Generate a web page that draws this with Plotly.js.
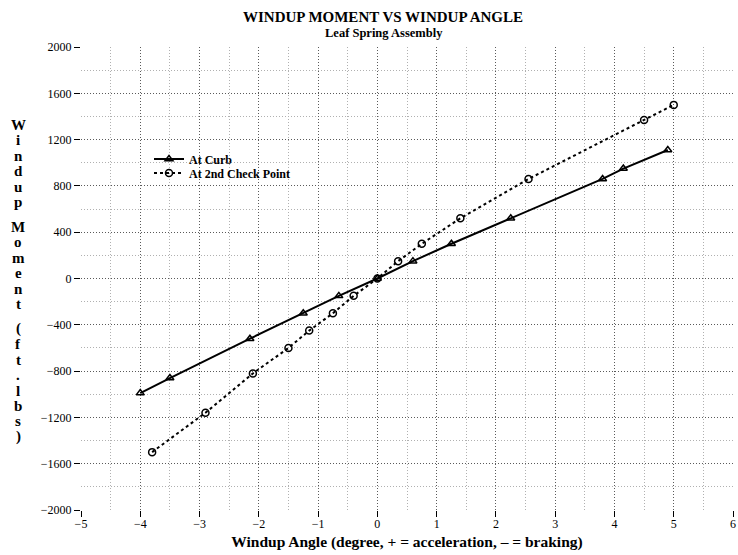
<!DOCTYPE html>
<html>
<head>
<meta charset="utf-8">
<script src="https://cdn.plot.ly/plotly-3.0.1.min.js"></script>
<style>
  html, body { margin: 0; padding: 0; background: #fff; }
  #chart { width: 738px; height: 555px; }
</style>
</head>
<body>
<div id="chart"></div>
<script>
// Windup moment (ft.lbs) against windup angle (degrees) for the leaf spring assembly
const curbAngle  = [-4.0, -3.5, -2.15, -1.25, -0.65, 0, 0.6, 1.25, 2.25, 3.8, 4.15, 4.9];
const curbMoment = [-990, -860, -520, -300, -150, 0, 150, 300, 520, 860, 950, 1110];

const checkAngle  = [-3.8, -2.9, -2.1, -1.5, -1.15, -0.75, -0.4, 0, 0.35, 0.75, 1.4, 2.55, 4.5, 5.0];
const checkMoment = [-1500, -1160, -820, -600, -450, -300, -150, 0, 150, 300, 520, 860, 1370, 1500];

const seriesNames = ['At Curb', 'At 2nd Check Point'];

const xTickVals = [-5, -4, -3, -2, -1, 0, 1, 2, 3, 4, 5, 6];
const yTickVals = [-2000, -1600, -1200, -800, -400, 0, 400, 800, 1200, 1600, 2000];

const yTitleWords = ['Windup', 'Moment', '(ft.lbs)'];

const SERIF = '"Liberation Serif", "DejaVu Serif", serif';

const traces = [
  {
    x: curbAngle, y: curbMoment, name: seriesNames[0],
    type: 'scatter', mode: 'lines+markers', legend: 'legend',
    line: { color: '#000', width: 2 },
    marker: { symbol: 'triangle-up-open', size: 7, color: '#000', line: { width: 1.5, color: '#000' } }
  },
  {
    x: checkAngle, y: checkMoment, name: seriesNames[1],
    type: 'scatter', mode: 'lines+markers', legend: 'legend2',
    line: { color: '#000', width: 2, dash: '3px,3px' },
    marker: { symbol: 'circle-open', size: 7, color: '#000', line: { width: 1.5, color: '#000' } }
  }
];

// plot area geometry in pixels
const W = 738, H = 555;
const margin = { l: 81, r: 5, t: 47, b: 45 };
const plotH = H - margin.t - margin.b;
const plotW = W - margin.l - margin.r;
const px2x = p => (p - margin.l) / plotW;
const px2y = p => (H - margin.b - p) / plotH;

// vertical, one-letter-per-line y-axis title
const annotations = [];
let yPix = 125;
const step = 15.4, wordGap = 25;
yTitleWords.forEach((word, wi) => {
  if (wi > 0) yPix += wordGap - step;
  for (const ch of word) {
    annotations.push({
      text: '<b>' + ch + '</b>', xref: 'paper', yref: 'paper',
      x: px2x(18), y: px2y(yPix),
      xanchor: 'center', yanchor: 'middle', showarrow: false,
      font: { family: SERIF, size: 15, color: '#000' }
    });
    yPix += step;
  }
});

annotations.push({
  text: '<b>Leaf Spring Assembly</b>', xref: 'paper', yref: 'paper',
  x: px2x(384), y: px2y(33),
  xanchor: 'center', yanchor: 'middle', showarrow: false,
  font: { family: SERIF, size: 12.5, color: '#000' }
});

const axisCommon = {
  showline: false, zeroline: false,
  ticks: 'outside', ticklen: 6, tickwidth: 1, tickcolor: '#000',
  showgrid: true, gridcolor: '#5a5a5a', griddash: '1px,2px', gridwidth: 1,
  tickfont: { family: SERIF, size: 12, color: '#000' }
};
const minorGrid = { showgrid: true, gridcolor: '#b0b0b0', griddash: '1px,2px', gridwidth: 1, ticks: '' };

const legendCommon = {
  xanchor: 'left', yanchor: 'top',
  bgcolor: 'rgba(0,0,0,0)', borderwidth: 0,
  font: { family: SERIF, size: 12, color: '#000', weight: 'bold' },
  itemwidth: 30
};

const layout = {
  width: W, height: H,
  margin: margin,
  paper_bgcolor: '#fff', plot_bgcolor: '#fff',
  title: {
    text: '<b>WINDUP MOMENT VS WINDUP ANGLE</b>',
    x: 383 / W, xanchor: 'center', xref: 'container',
    y: 1 - 17 / H, yanchor: 'middle', yref: 'container',
    font: { family: SERIF, size: 15, color: '#000' }
  },
  xaxis: Object.assign({}, axisCommon, {
    range: [-5, 6], tickmode: 'array', tickvals: xTickVals,
    ticklabelstandoff: -3,
    minor: Object.assign({ dtick: 0.5 }, minorGrid),
    title: { text: '<b>Windup Angle (degree, + = acceleration, \u2013 = braking)</b>', standoff: 5,
             font: { family: SERIF, size: 15.5, color: '#000' } }
  }),
  yaxis: Object.assign({}, axisCommon, {
    range: [-2000, 2000], tickmode: 'array', tickvals: yTickVals,
    minor: Object.assign({ dtick: 200 }, minorGrid),
    title: { text: '' }
  }),
  showlegend: true,
  legend: Object.assign({ x: px2x(149), y: px2y(144.5) }, legendCommon),
  legend2: Object.assign({ x: px2x(149), y: px2y(158.5) }, legendCommon),
  annotations: annotations
};

Plotly.newPlot('chart', traces, layout, { displayModeBar: false, staticPlot: true });
</script>
</body>
</html>
